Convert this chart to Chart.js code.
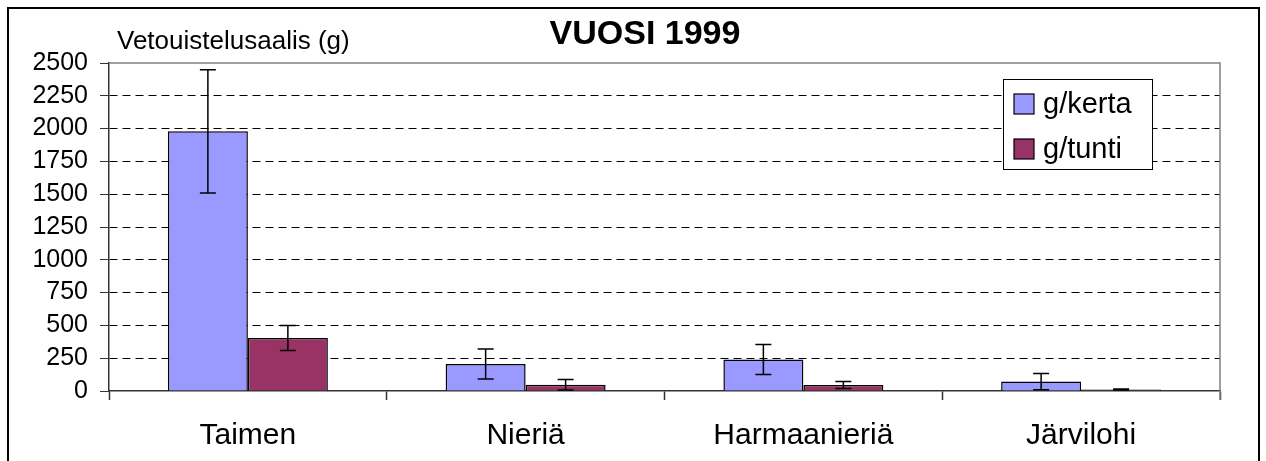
<!DOCTYPE html>
<html>
<head>
<meta charset="utf-8">
<script src="https://cdn.jsdelivr.net/npm/chart.js@4.4.1/dist/chart.umd.min.js"></script>
<style>
  html, body { margin: 0; padding: 0; background: #fff; }
  #wrap { width: 1266px; height: 461px; }
</style>
</head>
<body>
<div id="wrap"><canvas id="chart" width="1266" height="461"></canvas></div>
<script>
const FONT = '"Liberation Sans", Arial, sans-serif';

const categories = ['Taimen', 'Nieriä', 'Harmaanieriä', 'Järvilohi'];
const perKerta = [1979, 206, 240, 72];
const perKertaErr = [470, 115, 115, 62];
const perTunti = [404, 48, 46, 12];
const perTuntiErr = [96, 40, 27, 4];
const errors = [perKertaErr, perTuntiErr];

// frame, titles, legend box, error bars
const decor = {
  id: 'decor',
  beforeDraw(chart) {
    const { ctx } = chart;
    ctx.save();
    ctx.fillStyle = '#fff';
    ctx.fillRect(0, 0, chart.width, chart.height);
    ctx.restore();
  },
  afterDatasetsDraw(chart) {
    const { ctx, chartArea } = chart;
    const yScale = chart.scales.y;
    ctx.save();
    ctx.beginPath();
    ctx.rect(chartArea.left, chartArea.top, chartArea.right - chartArea.left, chartArea.bottom - chartArea.top + 1);
    ctx.clip();
    ctx.strokeStyle = '#000';
    ctx.lineWidth = 1.5;
    chart.data.datasets.forEach((ds, di) => {
      const meta = chart.getDatasetMeta(di);
      meta.data.forEach((bar, i) => {
        const v = ds.data[i];
        const e = errors[di][i];
        const yTop = yScale.getPixelForValue(v + e);
        const yBot = yScale.getPixelForValue(v - e);
        ctx.beginPath();
        ctx.moveTo(bar.x, yTop);
        ctx.lineTo(bar.x, yBot);
        ctx.moveTo(bar.x - 8, yTop);
        ctx.lineTo(bar.x + 8, yTop);
        ctx.moveTo(bar.x - 8, yBot);
        ctx.lineTo(bar.x + 8, yBot);
        ctx.stroke();
      });
    });
    ctx.restore();
  },
  afterDraw(chart) {
    const { ctx, chartArea } = chart;
    ctx.save();
    // plot border top/right
    ctx.strokeStyle = '#808080';
    ctx.lineWidth = 1.5;
    ctx.beginPath();
    ctx.moveTo(chartArea.left, chartArea.top);
    ctx.lineTo(chartArea.right, chartArea.top);
    ctx.lineTo(chartArea.right, chartArea.bottom + 9);
    ctx.stroke();

    // outer frame
    ctx.strokeStyle = '#000';
    ctx.lineWidth = 2;
    ctx.strokeRect(8, 8, 1251, 470);

    // titles
    ctx.fillStyle = '#000';
    ctx.textBaseline = 'middle';
    ctx.textAlign = 'center';
    ctx.font = 'bold 34px ' + FONT;
    ctx.fillText('VUOSI 1999', 645, 35);
    ctx.textAlign = 'left';
    ctx.font = '26px ' + FONT;
    ctx.fillText('Vetouistelusaalis (g)', 117, 42);

    // legend
    const lx = 1003, ly = 79, lw = 149, lh = 90;
    ctx.fillStyle = '#fff';
    ctx.fillRect(lx, ly, lw, lh);
    ctx.strokeStyle = '#000';
    ctx.lineWidth = 1;
    ctx.strokeRect(lx + 0.5, ly + 0.5, lw, lh);
    chart.data.datasets.forEach((ds, i) => {
      const cy = 104 + i * 45;
      ctx.fillStyle = ds.backgroundColor;
      ctx.fillRect(1014, cy - 10, 20, 20);
      ctx.strokeStyle = '#000';
      ctx.lineWidth = 1.2;
      ctx.strokeRect(1014, cy - 10, 20, 20);
      ctx.fillStyle = '#000';
      ctx.font = '29px ' + FONT;
      ctx.textAlign = 'left';
      ctx.fillText(ds.label, 1043, cy + 1);
    });
    ctx.restore();
  }
};

new Chart(document.getElementById('chart'), {
  type: 'bar',
  data: {
    labels: categories,
    datasets: [
      {
        label: 'g/kerta',
        data: perKerta,
        backgroundColor: '#9999ff',
        borderColor: '#000',
        borderWidth: 1.5,
      },
      {
        label: 'g/tunti',
        data: perTunti,
        backgroundColor: '#993366',
        borderColor: '#000',
        borderWidth: 1.5,
      },
    ],
  },
  options: {
    responsive: false,
    animation: false,
    layout: { padding: { left: 0, top: 63, right: 46, bottom: 0 } },
    datasets: { bar: { categoryPercentage: 0.576, barPercentage: 1 } },
    plugins: {
      legend: { display: false },
      title: { display: false },
      tooltip: { enabled: false },
    },
    scales: {
      x: {
        afterFit(scale) { scale.height = 70; },
        grid: {
          offset: true,
          drawOnChartArea: false,
          drawTicks: true,
          tickLength: 9,
          tickColor: '#333',
          tickWidth: 1.5,
        },
        border: { color: '#333', width: 1.5 },
        ticks: {
          color: '#000',
          padding: 18,
          autoSkip: false,
          maxRotation: 0,
          font: { family: FONT, size: 30 },
        },
      },
      y: {
        min: 0,
        max: 2500,
        afterFit(scale) { scale.width = 109; },
        grid: {
          color: ctx => (ctx.tick && (ctx.tick.value === 2500 || ctx.tick.value === 0) ? 'rgba(0,0,0,0)' : '#000'),
          lineWidth: 1,
          tickLength: 9,
          tickColor: '#333',
          tickWidth: 1,
          tickBorderDash: [],
        },
        border: { color: '#333', width: 1.5, dash: [8, 5] },
        ticks: {
          stepSize: 250,
          autoSkip: false,
          color: '#000',
          padding: 12,
          font: { family: FONT, size: 25 },
          callback: value => String(value),
        },
      },
    },
  },
  plugins: [decor],
});
</script>
</body>
</html>
